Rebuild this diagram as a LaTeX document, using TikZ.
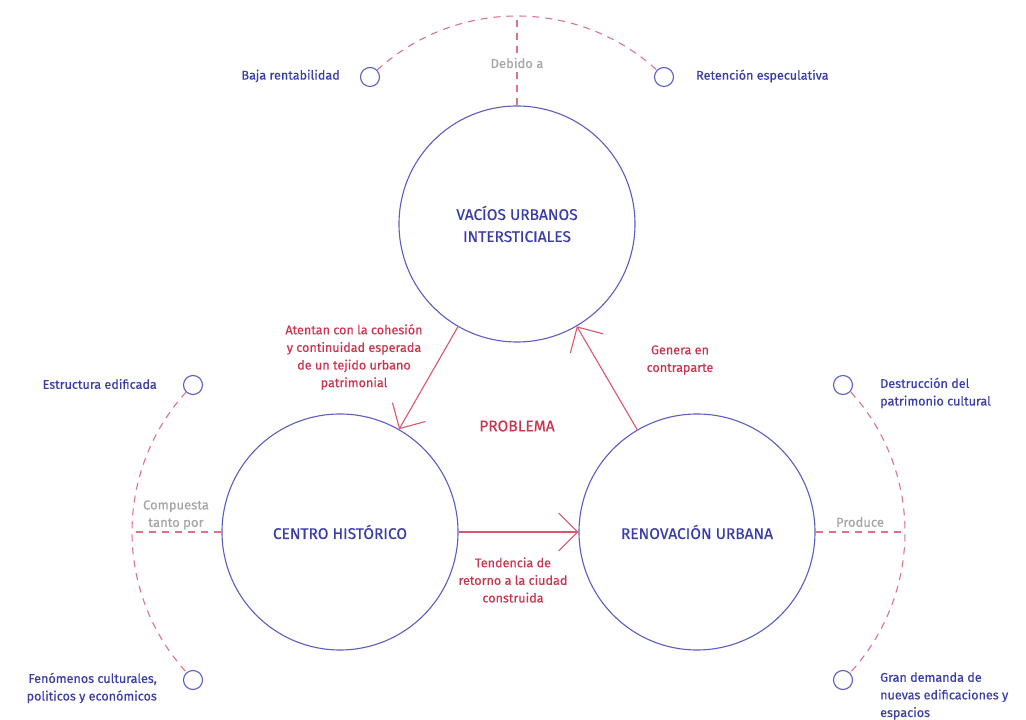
\documentclass[tikz,border=0pt]{standalone}
\usepackage{fontspec}
\setmainfont{Fira Sans}[FakeBold=0.5]
\usetikzlibrary{arrows.meta,calc}
\definecolor{cblue}{HTML}{5A5EC0}
\definecolor{tblue}{HTML}{3A3DA6}
\definecolor{ared}{HTML}{D9566C}
\definecolor{tred}{HTML}{C93550}
\definecolor{dred}{HTML}{DD7288}
\definecolor{tgray}{HTML}{A6A6A6}
\begin{document}
\begin{tikzpicture}[x=1pt,y=1pt,
  big/.style={circle,draw=cblue,line width=1.1pt,minimum size=236pt,inner sep=0pt,text=tblue,font=\fontsize{15.5}{22}\selectfont,align=center},
  small/.style={circle,draw=cblue,line width=1.1pt,minimum size=19pt,inner sep=0pt},
  lbl/.style={text=tblue,font=\fontsize{12.6}{17.6}\selectfont,inner sep=0pt},
  rlbl/.style={text=tred,font=\fontsize{12.6}{17.6}\selectfont,align=center,inner sep=0pt},
  glbl/.style={text=tgray,font=\fontsize{13}{17.5}\selectfont,align=center,inner sep=1pt},
  dash line/.style={draw=dred,line width=1.1pt,dash pattern=on 7pt off 6pt},
  conn/.style={draw=ared,line width=1.1pt,-{Straight Barb[length=19pt,width=38pt,line width=1.1pt]}}
]
\useasboundingbox (0,0) rectangle (1026,720);
% big circles
\node[big] (T) at (517,496) {VACÍOS URBANOS\\INTERSTICIALES};
\node[big] (L) at (340,188) {CENTRO HISTÓRICO};
\node[big] (R) at (697,188) {RENOVACIÓN URBANA};
% small circles
\node[small] (s1) at (370,643) {};
\node[small] (s2) at (664,643) {};
\node[small] (s3) at (193,335) {};
\node[small] (s4) at (193,40) {};
\node[small] (s5) at (843,335) {};
\node[small] (s6) at (843,40) {};
% dashed arcs
\path[dash line] ($(T)+(132.3:208)$) arc[start angle=132.3,end angle=47.7,radius=208];
\path[dash line] ($(L)+(137.7:208)$) arc[start angle=137.7,end angle=222.3,radius=208];
\path[dash line] ($(R)+(42.3:208)$) arc[start angle=42.3,end angle=-42.3,radius=208];
\coordinate (tpk) at (517,704);
\coordinate (lpk) at (132,188);
\coordinate (rpk) at (905,188);
\path[dash line] (T.north) -- (tpk);
\path[dash line] (L.west) -- (lpk);
\path[dash line] (R.east) -- (rpk);
\node[glbl,fill=white] (g1) at (517,657) {Debido a};
\node[glbl] (g2) at (176,205) {Compuesta\\tanto por};
\node[glbl] (g3) at (860,198) {Produce};
% connectors
\path[conn] (T) -- (L);
\path[conn] (R) -- (T);
\path[conn] (L) -- (R);
% red labels
\node[rlbl] (r1) at (354,363) {Atentan con la cohesión\\y continuidad esperada\\de un tejido urbano\\patrimonial};
\node[rlbl] (r2) at (680,360) {Genera en\\contraparte};
\node[rlbl] (r3) at (513,140) {Tendencia de\\retorno a la ciudad\\construida};
\node[rlbl,font=\fontsize{15.5}{20}\selectfont] (pb) at (517,294) {PROBLEMA};
% outer labels
\node[lbl,anchor=east] (b1) at (340,644) {Baja rentabilidad};
\node[lbl,anchor=west] (b2) at (696,644) {Retención especulativa};
\node[lbl,anchor=east] (b3) at (157,336) {Estructura edificada};
\node[lbl,anchor=east,align=right] (b4) at (157,32) {Fenómenos culturales,\\politicos y económicos};
\node[lbl,anchor=west,align=left] (b5) at (880,327) {Destrucción del\\patrimonio cultural};
\node[lbl,anchor=west,align=left] (b6) at (880,24) {Gran demanda de\\nuevas edificaciones y\\espacios};
\end{tikzpicture}
\end{document}
